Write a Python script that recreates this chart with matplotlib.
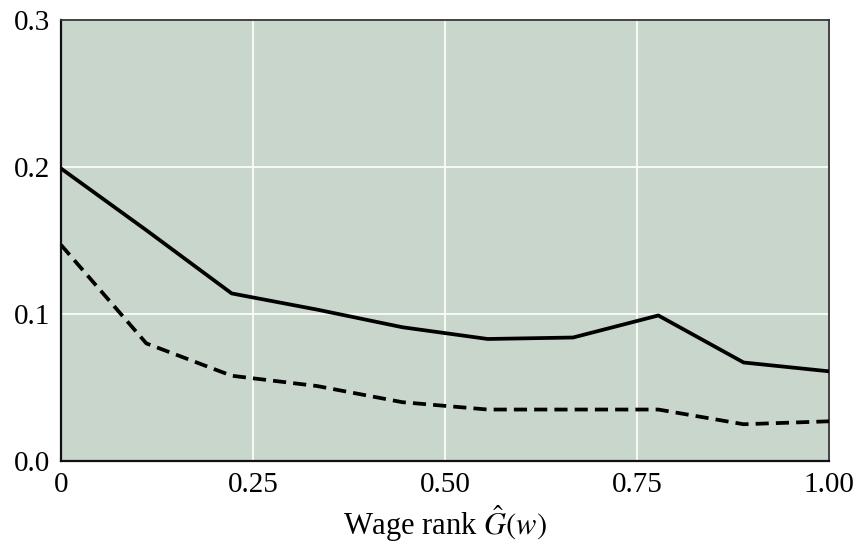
#!/usr/bin/env python3

import numpy as np
import matplotlib
matplotlib.use('Agg')
import matplotlib.pyplot as plt

# wage rank grid (deciles of G(w))
rank = np.arange(10) / 9.0
solid = [0.199, 0.157, 0.114, 0.103, 0.091, 0.083, 0.084, 0.099, 0.067, 0.061]
dashed = [0.147, 0.080, 0.058, 0.051, 0.040, 0.035, 0.035, 0.035, 0.025, 0.027]

xticks = [0, 0.25, 0.5, 0.75, 1.0]
xticklabels = ['0', '0.25', '0.50', '0.75', '1.00']
yticks = [0.0, 0.1, 0.2, 0.3]
yticklabels = ['0.0', '0.1', '0.2', '0.3']

plt.rcParams['font.family'] = ['Liberation Serif', 'DejaVu Serif']
plt.rcParams['mathtext.fontset'] = 'stix'

fig = plt.figure(figsize=(8.58, 5.44), dpi=100)
ax = fig.add_axes([0.0711, 0.1526, 0.8951, 0.8106])
ax.set_facecolor('#c9d6cc')

ax.plot(rank, solid, color='black', lw=2.7, solid_capstyle='butt', zorder=3)
ax.plot(rank, dashed, color='black', lw=2.7, dashes=(3.5, 1.9),
        dash_capstyle='butt', zorder=3)

ax.set_xlim(0, 1)
ax.set_ylim(0, 0.3)
ax.set_xticks(xticks)
ax.set_xticklabels(xticklabels)
ax.set_yticks(yticks)
ax.set_yticklabels(yticklabels)
ax.tick_params(length=0, labelsize=21, pad=8)
ax.grid(True, color='white', lw=1.2, zorder=1)
ax.set_axisbelow(True)

for side in ['left', 'bottom']:
    ax.spines[side].set_linewidth(1.6)
    ax.spines[side].set_color('#111111')
for side in ['top', 'right']:
    ax.spines[side].set_linewidth(1.3)
    ax.spines[side].set_color('#333333')

ax.set_xlabel(r'Wage rank $\hat{G}(w)$', fontsize=22, labelpad=4)

plt.savefig('out.png', dpi=100)
